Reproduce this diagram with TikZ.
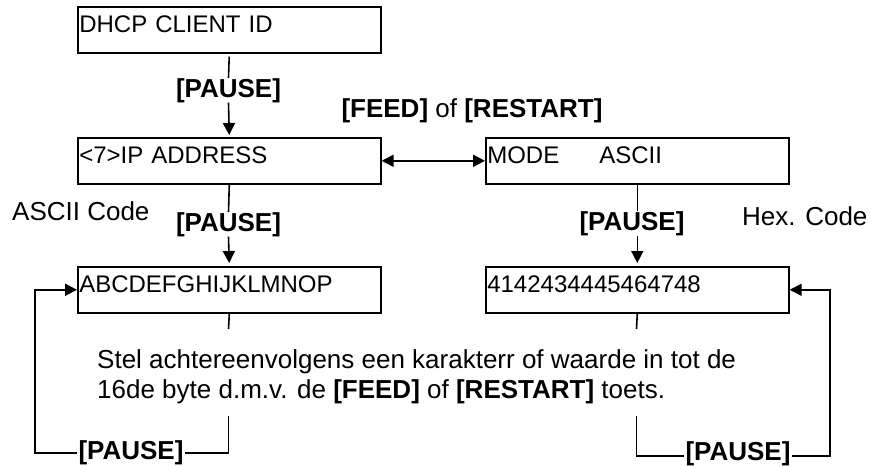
\documentclass[tikz,border=0pt]{standalone}
\usepackage{fontspec}
\setmainfont{Liberation Sans}
\usetikzlibrary{arrows.meta}
\begin{document}
\begin{tikzpicture}[x=1pt,y=-1pt,
  box/.style={draw,line width=1.6pt,minimum width=303pt,minimum height=46pt,text width=300pt,align=left,inner xsep=1.5pt,inner ysep=0pt,text height=26pt,text depth=20pt,font=\fontsize{24}{28}\selectfont,anchor=north west},
  lbl/.style={font=\fontsize{26}{30}\selectfont,inner sep=0pt},
  key/.style={font=\bfseries\fontsize{26}{30}\selectfont,inner ysep=0pt,inner xsep=1pt},
  con/.style={line width=1.6pt},
  tip/.tip={Triangle[length=12pt,width=12pt]},
  arr/.style={con,-tip},
]
\useasboundingbox (0,0) rectangle (884,466);
% boxes
\node[box] (dhcp) at (77,6) {DHCP CLIENT ID};
\node[box] (ip) at (77,137) {<7>IP ADDRESS};
\node[box] (mode) at (485,137) {\makebox[112pt][l]{MODE}ASCII};
\node[box] (abc) at (77,266) {ABCDEFGHIJKLMNOP};
\node[box] (hex) at (485,266) {4142434445464748};
% labels
\node[key,anchor=base] (p1) at (228.5,97) {[PAUSE]};
\node[key,anchor=base] (p2) at (228.5,231) {[PAUSE]};
\node[key,anchor=base] (p3) at (632,230) {[PAUSE]};
\node[key,anchor=base] (p4) at (131,459) {[PAUSE]};
\node[key,anchor=base] (p5) at (738,460) {[PAUSE]};
\node[lbl,anchor=base] (fr) at (472,117) {\textbf{[FEED]} of \textbf{[RESTART]}};
\node[lbl,anchor=base west] (ac) at (12,220) {ASCII Code};
\node[lbl,anchor=base west] (hc) at (742,225) {Hex. Code};
\node[lbl,anchor=base west] (s1) at (97,368) {Stel achtereenvolgens een karakterr of waarde in tot de};
\node[lbl,anchor=base west] (s2) at (97,398) {16de byte d.m.v. de \textbf{[FEED]} of \textbf{[RESTART]} toets.};
% connectors
\draw[con,shorten <=3pt] (dhcp.south) -- (p1.north);
\draw[arr,shorten >=2pt] (p1.south) -- (ip.north);
\draw[con] (ip.south) -- (p2.north);
\draw[arr,shorten >=3pt] (p2.south) -- (abc.north);
\draw[con] (mode.south) -- (mode.south |- p3.north);
\draw[arr,shorten >=3pt] (mode.south |- p3.south) -- (hex.north);
\draw[con,tip-tip] (ip.east) -- (mode.west);
% stubs
\coordinate (a1) at (228.5,329);
\coordinate (h1) at (636.5,329);
\draw[con] (abc.south) -- (a1);
\draw[con] (hex.south) -- (h1);
% left loop
\coordinate (la) at (228.5,416);
\coordinate (lb) at (228.5,453);
\coordinate (lc) at (35,453);
\draw[con] (la) -- (lb) -- (p4.east |- lb);
\draw[arr] (p4.west |- lb) -- (lc) -- (lc |- abc.west) -- (abc.west);
% right loop
\coordinate (ra) at (636.5,416);
\coordinate (rb) at (636.5,456);
\coordinate (rc) at (830,456);
\draw[con] (ra) -- (rb) -- (p5.west |- rb);
\draw[arr] (p5.east |- rb) -- (rc) -- (rc |- hex.east) -- (hex.east);
\end{tikzpicture}
\end{document}
